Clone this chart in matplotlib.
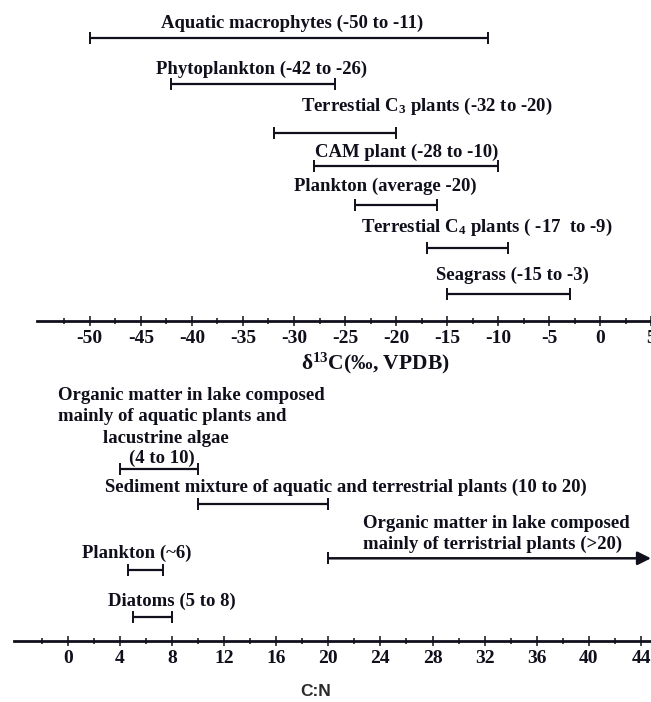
import numpy as np
import matplotlib
matplotlib.use("Agg")
import matplotlib.pyplot as plt
from matplotlib.ticker import MultipleLocator

INK = "#10101c"

# d13C source ranges (permil, VPDB)
c13_names = ["Aquatic macrophytes (-50 to -11)",
             "Phytoplankton (-42 to -26)",
             "Terrestial C$_3$ plants (-32 to -20)",
             "CAM plant (-28 to -10)",
             "Plankton (average -20)",
             "Terrestial C$_4$ plants ( -17  to -9)",
             "Seagrass (-15 to -3)"]
c13_low = [-50, -42, -32, -28, -24, -17, -15]
c13_high = [-11, -26, -20, -10, -16, -9, -3]

# C:N ranges
cn_low = [4, 10, 4.6, 5]
cn_high = [10, 20, 7.3, 8]
cn_open_low = 20   # terrestrial plants, >20

plt.rcParams.update({
    "font.family": "Liberation Serif",
    "font.weight": "bold",
    "axes.unicode_minus": False,
    "mathtext.default": "regular",
})

W, H = 651, 702
fig = plt.figure(figsize=(W / 100, H / 100), dpi=100)


def px_axes(x0, x1, y0, y1):
    return fig.add_axes([x0 / W, 1 - y1 / H, (x1 - x0) / W, (y1 - y0) / H])


def style(ax):
    for s in ("top", "right", "left"):
        ax.spines[s].set_visible(False)
    ax.spines["bottom"].set_linewidth(2.0)
    ax.spines["bottom"].set_color(INK)
    ax.set_yticks([])
    ax.set_facecolor("none")
    ax.tick_params(axis="x", which="major", direction="inout", length=7,
                   width=1.1, pad=3.0, labelsize=14, colors=INK)
    ax.tick_params(axis="x", which="minor", direction="inout", length=4,
                   width=1.1, colors=INK)


def range_bar(ax, lo, hi, y):
    ax.hlines(y, lo, hi, color=INK, lw=1.6)
    ax.plot([lo, hi], [y, y], ls="none", marker="|", ms=8, mew=1.4, color=INK)


# ---------- top: d13C ----------
top = px_axes(36.7, 660, 0, 320.7)
top.set_xlim((36.7 - 600.3) / 10.21, (660 - 600.3) / 10.21)
top.set_ylim(320.7, 0)
style(top)
top.xaxis.set_major_locator(MultipleLocator(5))
top.xaxis.set_minor_locator(MultipleLocator(2.5))
top.set_xticks(np.arange(-50, 6, 5))
top.set_xticks(np.arange(-52.5, 5, 5), minor=True)

bar_rows = [38.3, 84, 132.7, 166, 205, 248.3, 294]
text_rows = [28.3, 74, 110.7, 156.7, 190.7, 231.7, 280]
text_x = [-30.15, -33.2, -17.0, -18.96, -21.06, -11.1, -8.6]
for name, lo, hi, yb, yt, xt in zip(c13_names, c13_low, c13_high,
                                    bar_rows, text_rows, text_x):
    range_bar(top, lo, hi, yb)
    top.text(xt, yt, name, ha="center", va="baseline", fontsize=13.5,
             color=INK)

fig.text(375.5 / W, 1 - 363 / H, "δ$^{13}$C(‰, VPDB)", ha="center",
         va="center", fontsize=15.5, color=INK)

# ---------- bottom: C:N ----------
bot = px_axes(14, 651, 380, 641)
bot.set_xlim((14 - 67.7) / 13.03, (651 - 67.7) / 13.03)
bot.set_ylim(641, 380)
style(bot)
bot.set_xticks(np.arange(0, 45, 4))
bot.set_xticks(np.arange(-2, 44, 4), minor=True)

cn_rows = [469.3, 504, 570, 617.3]
for lo, hi, y in zip(cn_low, cn_high, cn_rows):
    range_bar(bot, lo, hi, y)

# open-ended range drawn as an arrow to the edge
arrow_y = 558.3
bot.annotate("", xy=(bot.get_xlim()[1], arrow_y), xytext=(cn_open_low, arrow_y),
             arrowprops=dict(arrowstyle="-|>", lw=1.8, color=INK,
                             mutation_scale=20, shrinkA=0, shrinkB=0),
             annotation_clip=False)
bot.plot([cn_open_low], [arrow_y], ls="none", marker="|", ms=8, mew=1.4,
         color=INK)

fs = 13.5
bot.text(-0.72, 400, "Organic matter in lake composed", ha="left",
         va="baseline", fontsize=fs, color=INK)
bot.text(-0.72, 420.7, "mainly of aquatic plants and", ha="left",
         va="baseline", fontsize=fs, color=INK)
bot.text(7.5, 442.7, "lacustrine algae", ha="center", va="baseline",
         fontsize=fs, color=INK)
bot.text(7.2, 463.3, "(4 to 10)", ha="center", va="baseline", fontsize=fs,
         color=INK)
bot.text(21.36, 492.3,
         "Sediment mixture of aquatic and terrestrial plants (10 to 20)",
         ha="center", va="baseline", fontsize=fs, color=INK)
bot.text(22.7, 528.3, "Organic matter in lake composed", ha="left",
         va="baseline", fontsize=fs, color=INK)
bot.text(22.7, 549.3, "mainly of terristrial plants (>20)", ha="left",
         va="baseline", fontsize=fs, color=INK)
bot.text(5.3, 558.3, "Plankton (~6)", ha="center", va="baseline",
         fontsize=fs, color=INK)
bot.text(8.0, 606, "Diatoms (5 to 8)", ha="center", va="baseline",
         fontsize=fs, color=INK)

fig.text(316 / W, 1 - 692 / H, "C:N", ha="center", va="center",
         fontsize=12.5, family="Liberation Sans", weight="bold",
         color="#2a2a2a")

fig.savefig("out.png", dpi=100, facecolor="white")
